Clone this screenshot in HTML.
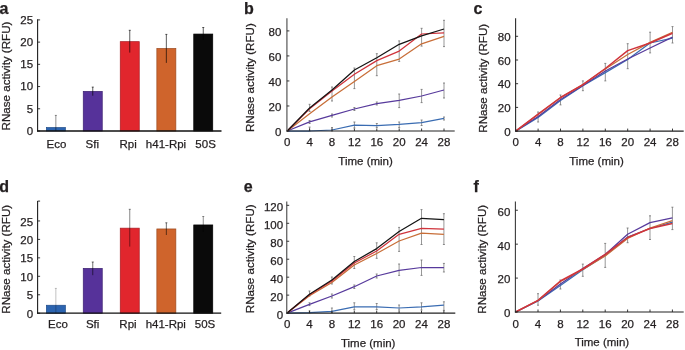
<!DOCTYPE html>
<html><head><meta charset="utf-8"><style>
html,body{margin:0;padding:0;background:#fff;}
body{width:685px;height:350px;overflow:hidden;}
svg{display:block;will-change:transform;filter:blur(0.35px);}
svg text{font-family:"Liberation Sans", sans-serif;fill:#231f20;stroke:#231f20;stroke-width:0.25px;}
</style></head><body>
<svg width="685" height="350" viewBox="0 0 685 350">
<rect width="685" height="350" fill="#fff"/>
<text x="-0.40" y="13.70" text-anchor="start" font-size="16" font-weight="bold">a</text>
<rect x="46.35" y="127.55" width="19.00" height="3.45" fill="#2c64b0" stroke="#1d4a88" stroke-width="0.7"/>
<rect x="83.25" y="91.35" width="19.00" height="39.65" fill="#56329a" stroke="#3c2170" stroke-width="0.7"/>
<rect x="120.25" y="41.65" width="19.00" height="89.35" fill="#e1262d" stroke="#a81c22" stroke-width="0.7"/>
<rect x="156.85" y="48.45" width="19.00" height="82.55" fill="#cf642c" stroke="#9c4a20" stroke-width="0.7"/>
<rect x="193.75" y="34.05" width="19.00" height="96.95" fill="#0a0a0a" stroke="#000000" stroke-width="0.7"/>
<line x1="55.85" y1="115.40" x2="55.85" y2="131.00" stroke="rgba(0,0,0,0.55)" stroke-width="0.8"/>
<line x1="54.85" y1="115.40" x2="56.85" y2="115.40" stroke="rgba(0,0,0,0.55)" stroke-width="0.8"/>
<line x1="92.75" y1="87.10" x2="92.75" y2="95.70" stroke="rgba(0,0,0,0.8)" stroke-width="0.8"/>
<line x1="91.75" y1="87.10" x2="93.75" y2="87.10" stroke="rgba(0,0,0,0.8)" stroke-width="0.8"/>
<line x1="129.75" y1="30.30" x2="129.75" y2="52.60" stroke="rgba(0,0,0,0.8)" stroke-width="0.8"/>
<line x1="128.75" y1="30.30" x2="130.75" y2="30.30" stroke="rgba(0,0,0,0.8)" stroke-width="0.8"/>
<line x1="166.35" y1="34.40" x2="166.35" y2="62.90" stroke="rgba(0,0,0,0.8)" stroke-width="0.8"/>
<line x1="165.35" y1="34.40" x2="167.35" y2="34.40" stroke="rgba(0,0,0,0.8)" stroke-width="0.8"/>
<line x1="203.25" y1="27.50" x2="203.25" y2="40.00" stroke="rgba(0,0,0,0.8)" stroke-width="0.8"/>
<line x1="202.25" y1="27.50" x2="204.25" y2="27.50" stroke="rgba(0,0,0,0.8)" stroke-width="0.8"/>
<line x1="37.60" y1="19.30" x2="37.60" y2="131.50" stroke="#1e1e1e" stroke-width="1.1"/>
<line x1="37.60" y1="131.00" x2="40.10" y2="131.00" stroke="#222" stroke-width="0.9"/>
<text x="33.10" y="134.90" text-anchor="end" font-size="11.5" font-weight="normal">0</text>
<line x1="37.60" y1="108.78" x2="40.10" y2="108.78" stroke="#222" stroke-width="0.9"/>
<text x="33.10" y="112.68" text-anchor="end" font-size="11.5" font-weight="normal">5</text>
<line x1="37.60" y1="86.56" x2="40.10" y2="86.56" stroke="#222" stroke-width="0.9"/>
<text x="33.10" y="90.46" text-anchor="end" font-size="11.5" font-weight="normal">10</text>
<line x1="37.60" y1="64.34" x2="40.10" y2="64.34" stroke="#222" stroke-width="0.9"/>
<text x="33.10" y="68.24" text-anchor="end" font-size="11.5" font-weight="normal">15</text>
<line x1="37.60" y1="42.12" x2="40.10" y2="42.12" stroke="#222" stroke-width="0.9"/>
<text x="33.10" y="46.02" text-anchor="end" font-size="11.5" font-weight="normal">20</text>
<line x1="37.60" y1="19.90" x2="40.10" y2="19.90" stroke="#222" stroke-width="0.9"/>
<text x="33.10" y="23.80" text-anchor="end" font-size="11.5" font-weight="normal">25</text>
<line x1="37.10" y1="131.00" x2="221.50" y2="131.00" stroke="#111" stroke-width="1.3"/>
<text x="56.45" y="148.00" text-anchor="middle" font-size="11.5" font-weight="normal">Eco</text>
<text x="92.30" y="148.00" text-anchor="middle" font-size="11.5" font-weight="normal">Sfi</text>
<text x="128.10" y="148.00" text-anchor="middle" font-size="11.5" font-weight="normal">Rpi</text>
<text x="166.00" y="148.00" text-anchor="middle" font-size="11.5" font-weight="normal">h41-Rpi</text>
<text x="205.60" y="148.00" text-anchor="middle" font-size="11.5" font-weight="normal">50S</text>
<text transform="translate(10.00,76.00) rotate(-90)" x="0" y="0" text-anchor="middle" font-size="11.6">RNase activity (RFU)</text>
<text x="244.00" y="13.70" text-anchor="start" font-size="16" font-weight="bold">b</text>
<line x1="309.60" y1="104.30" x2="309.60" y2="111.40" stroke="#6a6a6a" stroke-width="0.7"/>
<line x1="308.60" y1="104.30" x2="310.60" y2="104.30" stroke="#6a6a6a" stroke-width="0.75"/>
<line x1="308.60" y1="111.40" x2="310.60" y2="111.40" stroke="#6a6a6a" stroke-width="0.75"/>
<line x1="332.00" y1="87.00" x2="332.00" y2="101.00" stroke="#6a6a6a" stroke-width="0.7"/>
<line x1="331.00" y1="87.00" x2="333.00" y2="87.00" stroke="#6a6a6a" stroke-width="0.75"/>
<line x1="331.00" y1="101.00" x2="333.00" y2="101.00" stroke="#6a6a6a" stroke-width="0.75"/>
<line x1="354.40" y1="68.00" x2="354.40" y2="88.60" stroke="#6a6a6a" stroke-width="0.7"/>
<line x1="353.40" y1="68.00" x2="355.40" y2="68.00" stroke="#6a6a6a" stroke-width="0.75"/>
<line x1="353.40" y1="88.60" x2="355.40" y2="88.60" stroke="#6a6a6a" stroke-width="0.75"/>
<line x1="376.80" y1="53.70" x2="376.80" y2="75.70" stroke="#6a6a6a" stroke-width="0.7"/>
<line x1="375.80" y1="53.70" x2="377.80" y2="53.70" stroke="#6a6a6a" stroke-width="0.75"/>
<line x1="375.80" y1="75.70" x2="377.80" y2="75.70" stroke="#6a6a6a" stroke-width="0.75"/>
<line x1="399.20" y1="40.90" x2="399.20" y2="61.40" stroke="#6a6a6a" stroke-width="0.7"/>
<line x1="398.20" y1="40.90" x2="400.20" y2="40.90" stroke="#6a6a6a" stroke-width="0.75"/>
<line x1="398.20" y1="61.40" x2="400.20" y2="61.40" stroke="#6a6a6a" stroke-width="0.75"/>
<line x1="421.60" y1="28.30" x2="421.60" y2="46.10" stroke="#6a6a6a" stroke-width="0.7"/>
<line x1="420.60" y1="28.30" x2="422.60" y2="28.30" stroke="#6a6a6a" stroke-width="0.75"/>
<line x1="420.60" y1="46.10" x2="422.60" y2="46.10" stroke="#6a6a6a" stroke-width="0.75"/>
<line x1="444.00" y1="20.30" x2="444.00" y2="46.60" stroke="#6a6a6a" stroke-width="0.7"/>
<line x1="443.00" y1="20.30" x2="445.00" y2="20.30" stroke="#6a6a6a" stroke-width="0.75"/>
<line x1="443.00" y1="46.60" x2="445.00" y2="46.60" stroke="#6a6a6a" stroke-width="0.75"/>
<line x1="309.60" y1="120.50" x2="309.60" y2="123.50" stroke="#6a6a6a" stroke-width="0.7"/>
<line x1="308.60" y1="120.50" x2="310.60" y2="120.50" stroke="#6a6a6a" stroke-width="0.75"/>
<line x1="308.60" y1="123.50" x2="310.60" y2="123.50" stroke="#6a6a6a" stroke-width="0.75"/>
<line x1="332.00" y1="114.00" x2="332.00" y2="117.00" stroke="#6a6a6a" stroke-width="0.7"/>
<line x1="331.00" y1="114.00" x2="333.00" y2="114.00" stroke="#6a6a6a" stroke-width="0.75"/>
<line x1="331.00" y1="117.00" x2="333.00" y2="117.00" stroke="#6a6a6a" stroke-width="0.75"/>
<line x1="354.40" y1="107.50" x2="354.40" y2="110.50" stroke="#6a6a6a" stroke-width="0.7"/>
<line x1="353.40" y1="107.50" x2="355.40" y2="107.50" stroke="#6a6a6a" stroke-width="0.75"/>
<line x1="353.40" y1="110.50" x2="355.40" y2="110.50" stroke="#6a6a6a" stroke-width="0.75"/>
<line x1="376.80" y1="102.00" x2="376.80" y2="105.00" stroke="#6a6a6a" stroke-width="0.7"/>
<line x1="375.80" y1="102.00" x2="377.80" y2="102.00" stroke="#6a6a6a" stroke-width="0.75"/>
<line x1="375.80" y1="105.00" x2="377.80" y2="105.00" stroke="#6a6a6a" stroke-width="0.75"/>
<line x1="399.20" y1="94.00" x2="399.20" y2="107.60" stroke="#6a6a6a" stroke-width="0.7"/>
<line x1="398.20" y1="94.00" x2="400.20" y2="94.00" stroke="#6a6a6a" stroke-width="0.75"/>
<line x1="398.20" y1="107.60" x2="400.20" y2="107.60" stroke="#6a6a6a" stroke-width="0.75"/>
<line x1="421.60" y1="89.40" x2="421.60" y2="102.60" stroke="#6a6a6a" stroke-width="0.7"/>
<line x1="420.60" y1="89.40" x2="422.60" y2="89.40" stroke="#6a6a6a" stroke-width="0.75"/>
<line x1="420.60" y1="102.60" x2="422.60" y2="102.60" stroke="#6a6a6a" stroke-width="0.75"/>
<line x1="444.00" y1="83.00" x2="444.00" y2="98.00" stroke="#6a6a6a" stroke-width="0.7"/>
<line x1="443.00" y1="83.00" x2="445.00" y2="83.00" stroke="#6a6a6a" stroke-width="0.75"/>
<line x1="443.00" y1="98.00" x2="445.00" y2="98.00" stroke="#6a6a6a" stroke-width="0.75"/>
<line x1="309.60" y1="127.10" x2="309.60" y2="131.00" stroke="#6a6a6a" stroke-width="0.7"/>
<line x1="308.60" y1="127.10" x2="310.60" y2="127.10" stroke="#6a6a6a" stroke-width="0.75"/>
<line x1="308.60" y1="131.00" x2="310.60" y2="131.00" stroke="#6a6a6a" stroke-width="0.75"/>
<line x1="332.00" y1="127.50" x2="332.00" y2="131.00" stroke="#6a6a6a" stroke-width="0.7"/>
<line x1="331.00" y1="127.50" x2="333.00" y2="127.50" stroke="#6a6a6a" stroke-width="0.75"/>
<line x1="331.00" y1="131.00" x2="333.00" y2="131.00" stroke="#6a6a6a" stroke-width="0.75"/>
<line x1="354.40" y1="122.00" x2="354.40" y2="128.00" stroke="#6a6a6a" stroke-width="0.7"/>
<line x1="353.40" y1="122.00" x2="355.40" y2="122.00" stroke="#6a6a6a" stroke-width="0.75"/>
<line x1="353.40" y1="128.00" x2="355.40" y2="128.00" stroke="#6a6a6a" stroke-width="0.75"/>
<line x1="376.80" y1="123.50" x2="376.80" y2="127.60" stroke="#6a6a6a" stroke-width="0.7"/>
<line x1="375.80" y1="123.50" x2="377.80" y2="123.50" stroke="#6a6a6a" stroke-width="0.75"/>
<line x1="375.80" y1="127.60" x2="377.80" y2="127.60" stroke="#6a6a6a" stroke-width="0.75"/>
<line x1="399.20" y1="122.00" x2="399.20" y2="127.60" stroke="#6a6a6a" stroke-width="0.7"/>
<line x1="398.20" y1="122.00" x2="400.20" y2="122.00" stroke="#6a6a6a" stroke-width="0.75"/>
<line x1="398.20" y1="127.60" x2="400.20" y2="127.60" stroke="#6a6a6a" stroke-width="0.75"/>
<line x1="421.60" y1="120.00" x2="421.60" y2="125.50" stroke="#6a6a6a" stroke-width="0.7"/>
<line x1="420.60" y1="120.00" x2="422.60" y2="120.00" stroke="#6a6a6a" stroke-width="0.75"/>
<line x1="420.60" y1="125.50" x2="422.60" y2="125.50" stroke="#6a6a6a" stroke-width="0.75"/>
<line x1="444.00" y1="117.00" x2="444.00" y2="120.00" stroke="#6a6a6a" stroke-width="0.7"/>
<line x1="443.00" y1="117.00" x2="445.00" y2="117.00" stroke="#6a6a6a" stroke-width="0.75"/>
<line x1="443.00" y1="120.00" x2="445.00" y2="120.00" stroke="#6a6a6a" stroke-width="0.75"/>
<polyline points="287.20,131.00 309.60,131.00 332.00,130.00 354.40,125.10 376.80,125.60 399.20,124.40 421.60,122.60 444.00,118.40" fill="none" stroke="#3a6cb2" stroke-width="1.25" stroke-linejoin="round"/>
<polyline points="287.20,131.00 309.60,121.90 332.00,115.40 354.40,109.00 376.80,103.60 399.20,100.40 421.60,96.00 444.00,90.00" fill="none" stroke="#573a9c" stroke-width="1.25" stroke-linejoin="round"/>
<polyline points="287.20,131.00 309.60,113.70 332.00,97.10 354.40,81.40 376.80,65.70 399.20,59.10 421.60,43.80 444.00,36.30" fill="none" stroke="#c86e38" stroke-width="1.25" stroke-linejoin="round"/>
<polyline points="287.20,131.00 309.60,108.80 332.00,90.90 354.40,74.30 376.80,60.60 399.20,51.10 421.60,34.00 444.00,32.90" fill="none" stroke="#d0343c" stroke-width="1.25" stroke-linejoin="round"/>
<polyline points="287.20,131.00 309.60,108.00 332.00,90.00 354.40,70.00 376.80,57.70 399.20,44.30 421.60,35.80 444.00,29.00" fill="none" stroke="#141414" stroke-width="1.25" stroke-linejoin="round"/>
<line x1="286.90" y1="18.30" x2="286.90" y2="131.50" stroke="#6e6e6e" stroke-width="1.4"/>
<line x1="286.90" y1="131.00" x2="289.40" y2="131.00" stroke="#222" stroke-width="0.9"/>
<text x="281.30" y="135.60" text-anchor="end" font-size="11.5" font-weight="normal">0</text>
<line x1="286.90" y1="105.97" x2="289.40" y2="105.97" stroke="#222" stroke-width="0.9"/>
<text x="281.30" y="110.57" text-anchor="end" font-size="11.5" font-weight="normal">20</text>
<line x1="286.90" y1="80.95" x2="289.40" y2="80.95" stroke="#222" stroke-width="0.9"/>
<text x="281.30" y="85.55" text-anchor="end" font-size="11.5" font-weight="normal">40</text>
<line x1="286.90" y1="55.92" x2="289.40" y2="55.92" stroke="#222" stroke-width="0.9"/>
<text x="281.30" y="60.52" text-anchor="end" font-size="11.5" font-weight="normal">60</text>
<line x1="286.90" y1="30.90" x2="289.40" y2="30.90" stroke="#222" stroke-width="0.9"/>
<text x="281.30" y="35.50" text-anchor="end" font-size="11.5" font-weight="normal">80</text>
<line x1="286.40" y1="131.00" x2="454.70" y2="131.00" stroke="#222" stroke-width="1.2"/>
<text x="287.20" y="145.90" text-anchor="middle" font-size="11.5" font-weight="normal">0</text>
<line x1="309.60" y1="131.00" x2="309.60" y2="128.50" stroke="#222" stroke-width="0.9"/>
<text x="309.60" y="145.90" text-anchor="middle" font-size="11.5" font-weight="normal">4</text>
<line x1="332.00" y1="131.00" x2="332.00" y2="128.50" stroke="#222" stroke-width="0.9"/>
<text x="332.00" y="145.90" text-anchor="middle" font-size="11.5" font-weight="normal">8</text>
<line x1="354.40" y1="131.00" x2="354.40" y2="128.50" stroke="#222" stroke-width="0.9"/>
<text x="354.40" y="145.90" text-anchor="middle" font-size="11.5" font-weight="normal">12</text>
<line x1="376.80" y1="131.00" x2="376.80" y2="128.50" stroke="#222" stroke-width="0.9"/>
<text x="376.80" y="145.90" text-anchor="middle" font-size="11.5" font-weight="normal">16</text>
<line x1="399.20" y1="131.00" x2="399.20" y2="128.50" stroke="#222" stroke-width="0.9"/>
<text x="399.20" y="145.90" text-anchor="middle" font-size="11.5" font-weight="normal">20</text>
<line x1="421.60" y1="131.00" x2="421.60" y2="128.50" stroke="#222" stroke-width="0.9"/>
<text x="421.60" y="145.90" text-anchor="middle" font-size="11.5" font-weight="normal">24</text>
<line x1="444.00" y1="131.00" x2="444.00" y2="128.50" stroke="#222" stroke-width="0.9"/>
<text x="444.00" y="145.90" text-anchor="middle" font-size="11.5" font-weight="normal">28</text>
<text x="365.60" y="165.10" text-anchor="middle" font-size="11.5" font-weight="normal">Time (min)</text>
<text transform="translate(253.50,77.65) rotate(-90)" x="0" y="0" text-anchor="middle" font-size="11.6">RNase activity (RFU)</text>
<text x="473.50" y="14.00" text-anchor="start" font-size="16" font-weight="bold">c</text>
<line x1="538.10" y1="112.00" x2="538.10" y2="122.00" stroke="#6a6a6a" stroke-width="0.7"/>
<line x1="537.10" y1="112.00" x2="539.10" y2="112.00" stroke="#6a6a6a" stroke-width="0.75"/>
<line x1="537.10" y1="122.00" x2="539.10" y2="122.00" stroke="#6a6a6a" stroke-width="0.75"/>
<line x1="560.50" y1="95.00" x2="560.50" y2="104.90" stroke="#6a6a6a" stroke-width="0.7"/>
<line x1="559.50" y1="95.00" x2="561.50" y2="95.00" stroke="#6a6a6a" stroke-width="0.75"/>
<line x1="559.50" y1="104.90" x2="561.50" y2="104.90" stroke="#6a6a6a" stroke-width="0.75"/>
<line x1="582.90" y1="80.90" x2="582.90" y2="90.70" stroke="#6a6a6a" stroke-width="0.7"/>
<line x1="581.90" y1="80.90" x2="583.90" y2="80.90" stroke="#6a6a6a" stroke-width="0.75"/>
<line x1="581.90" y1="90.70" x2="583.90" y2="90.70" stroke="#6a6a6a" stroke-width="0.75"/>
<line x1="605.30" y1="63.40" x2="605.30" y2="80.90" stroke="#6a6a6a" stroke-width="0.7"/>
<line x1="604.30" y1="63.40" x2="606.30" y2="63.40" stroke="#6a6a6a" stroke-width="0.75"/>
<line x1="604.30" y1="80.90" x2="606.30" y2="80.90" stroke="#6a6a6a" stroke-width="0.75"/>
<line x1="627.70" y1="43.70" x2="627.70" y2="68.70" stroke="#6a6a6a" stroke-width="0.7"/>
<line x1="626.70" y1="43.70" x2="628.70" y2="43.70" stroke="#6a6a6a" stroke-width="0.75"/>
<line x1="626.70" y1="68.70" x2="628.70" y2="68.70" stroke="#6a6a6a" stroke-width="0.75"/>
<line x1="650.10" y1="32.20" x2="650.10" y2="52.90" stroke="#6a6a6a" stroke-width="0.7"/>
<line x1="649.10" y1="32.20" x2="651.10" y2="32.20" stroke="#6a6a6a" stroke-width="0.75"/>
<line x1="649.10" y1="52.90" x2="651.10" y2="52.90" stroke="#6a6a6a" stroke-width="0.75"/>
<line x1="672.50" y1="26.60" x2="672.50" y2="43.00" stroke="#6a6a6a" stroke-width="0.7"/>
<line x1="671.50" y1="26.60" x2="673.50" y2="26.60" stroke="#6a6a6a" stroke-width="0.75"/>
<line x1="671.50" y1="43.00" x2="673.50" y2="43.00" stroke="#6a6a6a" stroke-width="0.75"/>
<polyline points="515.70,131.10 538.10,117.40 560.50,100.60 582.90,85.80 605.30,72.60 627.70,59.50 650.10,43.00 672.50,38.10" fill="none" stroke="#3a6cb2" stroke-width="1.25" stroke-linejoin="round"/>
<polyline points="515.70,131.10 538.10,116.50 560.50,99.50 582.90,85.50 605.30,71.00 627.70,59.00 650.10,48.00 672.50,37.10" fill="none" stroke="#573a9c" stroke-width="1.25" stroke-linejoin="round"/>
<polyline points="515.70,131.10 538.10,114.50 560.50,97.80 582.90,84.60 605.30,69.00 627.70,54.50 650.10,42.40 672.50,32.20" fill="none" stroke="#c86e38" stroke-width="1.25" stroke-linejoin="round"/>
<polyline points="515.70,131.10 538.10,114.20 560.50,97.50 582.90,84.60 605.30,68.50 627.70,50.60 650.10,43.00 672.50,33.20" fill="none" stroke="#d0343c" stroke-width="1.5" stroke-linejoin="round"/>
<line x1="515.60" y1="18.30" x2="515.60" y2="131.60" stroke="#2a2a2a" stroke-width="1.1"/>
<line x1="515.60" y1="131.10" x2="518.10" y2="131.10" stroke="#222" stroke-width="0.9"/>
<text x="510.60" y="135.70" text-anchor="end" font-size="11.5" font-weight="normal">0</text>
<line x1="515.60" y1="107.40" x2="518.10" y2="107.40" stroke="#222" stroke-width="0.9"/>
<text x="510.60" y="112.00" text-anchor="end" font-size="11.5" font-weight="normal">20</text>
<line x1="515.60" y1="83.70" x2="518.10" y2="83.70" stroke="#222" stroke-width="0.9"/>
<text x="510.60" y="88.30" text-anchor="end" font-size="11.5" font-weight="normal">40</text>
<line x1="515.60" y1="60.00" x2="518.10" y2="60.00" stroke="#222" stroke-width="0.9"/>
<text x="510.60" y="64.60" text-anchor="end" font-size="11.5" font-weight="normal">60</text>
<line x1="515.60" y1="36.30" x2="518.10" y2="36.30" stroke="#222" stroke-width="0.9"/>
<text x="510.60" y="40.90" text-anchor="end" font-size="11.5" font-weight="normal">80</text>
<line x1="515.10" y1="131.10" x2="683.70" y2="131.10" stroke="#222" stroke-width="1.2"/>
<text x="515.70" y="145.90" text-anchor="middle" font-size="11.5" font-weight="normal">0</text>
<line x1="538.10" y1="131.10" x2="538.10" y2="128.60" stroke="#222" stroke-width="0.9"/>
<text x="538.10" y="145.90" text-anchor="middle" font-size="11.5" font-weight="normal">4</text>
<line x1="560.50" y1="131.10" x2="560.50" y2="128.60" stroke="#222" stroke-width="0.9"/>
<text x="560.50" y="145.90" text-anchor="middle" font-size="11.5" font-weight="normal">8</text>
<line x1="582.90" y1="131.10" x2="582.90" y2="128.60" stroke="#222" stroke-width="0.9"/>
<text x="582.90" y="145.90" text-anchor="middle" font-size="11.5" font-weight="normal">12</text>
<line x1="605.30" y1="131.10" x2="605.30" y2="128.60" stroke="#222" stroke-width="0.9"/>
<text x="605.30" y="145.90" text-anchor="middle" font-size="11.5" font-weight="normal">16</text>
<line x1="627.70" y1="131.10" x2="627.70" y2="128.60" stroke="#222" stroke-width="0.9"/>
<text x="627.70" y="145.90" text-anchor="middle" font-size="11.5" font-weight="normal">20</text>
<line x1="650.10" y1="131.10" x2="650.10" y2="128.60" stroke="#222" stroke-width="0.9"/>
<text x="650.10" y="145.90" text-anchor="middle" font-size="11.5" font-weight="normal">24</text>
<line x1="672.50" y1="131.10" x2="672.50" y2="128.60" stroke="#222" stroke-width="0.9"/>
<text x="672.50" y="145.90" text-anchor="middle" font-size="11.5" font-weight="normal">28</text>
<text x="596.50" y="165.30" text-anchor="middle" font-size="11.5" font-weight="normal">Time (min)</text>
<text transform="translate(487.30,78.25) rotate(-90)" x="0" y="0" text-anchor="middle" font-size="11.6">RNase activity (RFU)</text>
<text x="-0.80" y="191.70" text-anchor="start" font-size="16" font-weight="bold">d</text>
<rect x="46.35" y="305.25" width="19.00" height="7.95" fill="#2c64b0" stroke="#1d4a88" stroke-width="0.7"/>
<rect x="83.25" y="268.35" width="19.00" height="44.85" fill="#56329a" stroke="#3c2170" stroke-width="0.7"/>
<rect x="120.25" y="228.15" width="19.00" height="85.05" fill="#e1262d" stroke="#a81c22" stroke-width="0.7"/>
<rect x="156.85" y="228.95" width="19.00" height="84.25" fill="#cf642c" stroke="#9c4a20" stroke-width="0.7"/>
<rect x="193.75" y="224.95" width="19.00" height="88.25" fill="#0a0a0a" stroke="#000000" stroke-width="0.7"/>
<line x1="55.85" y1="288.40" x2="55.85" y2="313.20" stroke="rgba(0,0,0,0.3)" stroke-width="0.8"/>
<line x1="54.85" y1="288.40" x2="56.85" y2="288.40" stroke="rgba(0,0,0,0.3)" stroke-width="0.8"/>
<line x1="92.75" y1="262.00" x2="92.75" y2="275.20" stroke="rgba(0,0,0,0.7)" stroke-width="0.8"/>
<line x1="91.75" y1="262.00" x2="93.75" y2="262.00" stroke="rgba(0,0,0,0.7)" stroke-width="0.8"/>
<line x1="129.75" y1="209.30" x2="129.75" y2="246.60" stroke="rgba(0,0,0,0.6)" stroke-width="0.8"/>
<line x1="128.75" y1="209.30" x2="130.75" y2="209.30" stroke="rgba(0,0,0,0.6)" stroke-width="0.8"/>
<line x1="166.35" y1="222.80" x2="166.35" y2="235.00" stroke="rgba(0,0,0,0.7)" stroke-width="0.8"/>
<line x1="165.35" y1="222.80" x2="167.35" y2="222.80" stroke="rgba(0,0,0,0.7)" stroke-width="0.8"/>
<line x1="203.25" y1="216.50" x2="203.25" y2="232.00" stroke="rgba(0,0,0,0.55)" stroke-width="0.8"/>
<line x1="202.25" y1="216.50" x2="204.25" y2="216.50" stroke="rgba(0,0,0,0.55)" stroke-width="0.8"/>
<line x1="37.60" y1="201.10" x2="37.60" y2="313.70" stroke="#1e1e1e" stroke-width="1.1"/>
<line x1="37.60" y1="201.10" x2="40.10" y2="201.10" stroke="#1e1e1e" stroke-width="0.9"/>
<line x1="37.60" y1="313.20" x2="40.10" y2="313.20" stroke="#222" stroke-width="0.9"/>
<text x="33.10" y="317.80" text-anchor="end" font-size="11.5" font-weight="normal">0</text>
<line x1="37.60" y1="294.75" x2="40.10" y2="294.75" stroke="#222" stroke-width="0.9"/>
<text x="33.10" y="299.35" text-anchor="end" font-size="11.5" font-weight="normal">5</text>
<line x1="37.60" y1="276.30" x2="40.10" y2="276.30" stroke="#222" stroke-width="0.9"/>
<text x="33.10" y="280.90" text-anchor="end" font-size="11.5" font-weight="normal">10</text>
<line x1="37.60" y1="257.85" x2="40.10" y2="257.85" stroke="#222" stroke-width="0.9"/>
<text x="33.10" y="262.45" text-anchor="end" font-size="11.5" font-weight="normal">15</text>
<line x1="37.60" y1="239.40" x2="40.10" y2="239.40" stroke="#222" stroke-width="0.9"/>
<text x="33.10" y="244.00" text-anchor="end" font-size="11.5" font-weight="normal">20</text>
<line x1="37.60" y1="220.95" x2="40.10" y2="220.95" stroke="#222" stroke-width="0.9"/>
<text x="33.10" y="225.55" text-anchor="end" font-size="11.5" font-weight="normal">25</text>
<line x1="37.10" y1="313.20" x2="221.20" y2="313.20" stroke="#111" stroke-width="1.3"/>
<text x="57.90" y="327.90" text-anchor="middle" font-size="11.5" font-weight="normal">Eco</text>
<text x="92.60" y="327.90" text-anchor="middle" font-size="11.5" font-weight="normal">Sfi</text>
<text x="128.00" y="327.90" text-anchor="middle" font-size="11.5" font-weight="normal">Rpi</text>
<text x="165.80" y="327.90" text-anchor="middle" font-size="11.5" font-weight="normal">h41-Rpi</text>
<text x="205.00" y="327.90" text-anchor="middle" font-size="11.5" font-weight="normal">50S</text>
<text transform="translate(9.70,259.25) rotate(-90)" x="0" y="0" text-anchor="middle" font-size="11.6">RNase activity (RFU)</text>
<text x="243.70" y="192.10" text-anchor="start" font-size="16" font-weight="bold">e</text>
<line x1="309.50" y1="291.00" x2="309.50" y2="296.00" stroke="#6a6a6a" stroke-width="0.7"/>
<line x1="308.50" y1="291.00" x2="310.50" y2="291.00" stroke="#6a6a6a" stroke-width="0.75"/>
<line x1="308.50" y1="296.00" x2="310.50" y2="296.00" stroke="#6a6a6a" stroke-width="0.75"/>
<line x1="331.90" y1="277.00" x2="331.90" y2="284.00" stroke="#6a6a6a" stroke-width="0.7"/>
<line x1="330.90" y1="277.00" x2="332.90" y2="277.00" stroke="#6a6a6a" stroke-width="0.75"/>
<line x1="330.90" y1="284.00" x2="332.90" y2="284.00" stroke="#6a6a6a" stroke-width="0.75"/>
<line x1="354.30" y1="256.50" x2="354.30" y2="268.50" stroke="#6a6a6a" stroke-width="0.7"/>
<line x1="353.30" y1="256.50" x2="355.30" y2="256.50" stroke="#6a6a6a" stroke-width="0.75"/>
<line x1="353.30" y1="268.50" x2="355.30" y2="268.50" stroke="#6a6a6a" stroke-width="0.75"/>
<line x1="376.70" y1="242.80" x2="376.70" y2="258.30" stroke="#6a6a6a" stroke-width="0.7"/>
<line x1="375.70" y1="242.80" x2="377.70" y2="242.80" stroke="#6a6a6a" stroke-width="0.75"/>
<line x1="375.70" y1="258.30" x2="377.70" y2="258.30" stroke="#6a6a6a" stroke-width="0.75"/>
<line x1="399.10" y1="227.40" x2="399.10" y2="251.40" stroke="#6a6a6a" stroke-width="0.7"/>
<line x1="398.10" y1="227.40" x2="400.10" y2="227.40" stroke="#6a6a6a" stroke-width="0.75"/>
<line x1="398.10" y1="251.40" x2="400.10" y2="251.40" stroke="#6a6a6a" stroke-width="0.75"/>
<line x1="421.50" y1="209.60" x2="421.50" y2="244.50" stroke="#6a6a6a" stroke-width="0.7"/>
<line x1="420.50" y1="209.60" x2="422.50" y2="209.60" stroke="#6a6a6a" stroke-width="0.75"/>
<line x1="420.50" y1="244.50" x2="422.50" y2="244.50" stroke="#6a6a6a" stroke-width="0.75"/>
<line x1="443.90" y1="213.70" x2="443.90" y2="244.50" stroke="#6a6a6a" stroke-width="0.7"/>
<line x1="442.90" y1="213.70" x2="444.90" y2="213.70" stroke="#6a6a6a" stroke-width="0.75"/>
<line x1="442.90" y1="244.50" x2="444.90" y2="244.50" stroke="#6a6a6a" stroke-width="0.75"/>
<line x1="309.50" y1="302.80" x2="309.50" y2="305.60" stroke="#6a6a6a" stroke-width="0.7"/>
<line x1="308.50" y1="302.80" x2="310.50" y2="302.80" stroke="#6a6a6a" stroke-width="0.75"/>
<line x1="308.50" y1="305.60" x2="310.50" y2="305.60" stroke="#6a6a6a" stroke-width="0.75"/>
<line x1="331.90" y1="294.00" x2="331.90" y2="298.00" stroke="#6a6a6a" stroke-width="0.7"/>
<line x1="330.90" y1="294.00" x2="332.90" y2="294.00" stroke="#6a6a6a" stroke-width="0.75"/>
<line x1="330.90" y1="298.00" x2="332.90" y2="298.00" stroke="#6a6a6a" stroke-width="0.75"/>
<line x1="354.30" y1="285.00" x2="354.30" y2="288.50" stroke="#6a6a6a" stroke-width="0.7"/>
<line x1="353.30" y1="285.00" x2="355.30" y2="285.00" stroke="#6a6a6a" stroke-width="0.75"/>
<line x1="353.30" y1="288.50" x2="355.30" y2="288.50" stroke="#6a6a6a" stroke-width="0.75"/>
<line x1="376.70" y1="274.00" x2="376.70" y2="278.00" stroke="#6a6a6a" stroke-width="0.7"/>
<line x1="375.70" y1="274.00" x2="377.70" y2="274.00" stroke="#6a6a6a" stroke-width="0.75"/>
<line x1="375.70" y1="278.00" x2="377.70" y2="278.00" stroke="#6a6a6a" stroke-width="0.75"/>
<line x1="399.10" y1="264.00" x2="399.10" y2="275.40" stroke="#6a6a6a" stroke-width="0.7"/>
<line x1="398.10" y1="264.00" x2="400.10" y2="264.00" stroke="#6a6a6a" stroke-width="0.75"/>
<line x1="398.10" y1="275.40" x2="400.10" y2="275.40" stroke="#6a6a6a" stroke-width="0.75"/>
<line x1="421.50" y1="260.00" x2="421.50" y2="275.40" stroke="#6a6a6a" stroke-width="0.7"/>
<line x1="420.50" y1="260.00" x2="422.50" y2="260.00" stroke="#6a6a6a" stroke-width="0.75"/>
<line x1="420.50" y1="275.40" x2="422.50" y2="275.40" stroke="#6a6a6a" stroke-width="0.75"/>
<line x1="443.90" y1="263.40" x2="443.90" y2="272.00" stroke="#6a6a6a" stroke-width="0.7"/>
<line x1="442.90" y1="263.40" x2="444.90" y2="263.40" stroke="#6a6a6a" stroke-width="0.75"/>
<line x1="442.90" y1="272.00" x2="444.90" y2="272.00" stroke="#6a6a6a" stroke-width="0.75"/>
<line x1="309.50" y1="311.00" x2="309.50" y2="312.70" stroke="#6a6a6a" stroke-width="0.7"/>
<line x1="308.50" y1="311.00" x2="310.50" y2="311.00" stroke="#6a6a6a" stroke-width="0.75"/>
<line x1="308.50" y1="312.70" x2="310.50" y2="312.70" stroke="#6a6a6a" stroke-width="0.75"/>
<line x1="331.90" y1="308.00" x2="331.90" y2="312.70" stroke="#6a6a6a" stroke-width="0.7"/>
<line x1="330.90" y1="308.00" x2="332.90" y2="308.00" stroke="#6a6a6a" stroke-width="0.75"/>
<line x1="330.90" y1="312.70" x2="332.90" y2="312.70" stroke="#6a6a6a" stroke-width="0.75"/>
<line x1="354.30" y1="302.80" x2="354.30" y2="309.70" stroke="#6a6a6a" stroke-width="0.7"/>
<line x1="353.30" y1="302.80" x2="355.30" y2="302.80" stroke="#6a6a6a" stroke-width="0.75"/>
<line x1="353.30" y1="309.70" x2="355.30" y2="309.70" stroke="#6a6a6a" stroke-width="0.75"/>
<line x1="376.70" y1="303.50" x2="376.70" y2="309.50" stroke="#6a6a6a" stroke-width="0.7"/>
<line x1="375.70" y1="303.50" x2="377.70" y2="303.50" stroke="#6a6a6a" stroke-width="0.75"/>
<line x1="375.70" y1="309.50" x2="377.70" y2="309.50" stroke="#6a6a6a" stroke-width="0.75"/>
<line x1="399.10" y1="305.00" x2="399.10" y2="310.00" stroke="#6a6a6a" stroke-width="0.7"/>
<line x1="398.10" y1="305.00" x2="400.10" y2="305.00" stroke="#6a6a6a" stroke-width="0.75"/>
<line x1="398.10" y1="310.00" x2="400.10" y2="310.00" stroke="#6a6a6a" stroke-width="0.75"/>
<line x1="421.50" y1="302.80" x2="421.50" y2="310.00" stroke="#6a6a6a" stroke-width="0.7"/>
<line x1="420.50" y1="302.80" x2="422.50" y2="302.80" stroke="#6a6a6a" stroke-width="0.75"/>
<line x1="420.50" y1="310.00" x2="422.50" y2="310.00" stroke="#6a6a6a" stroke-width="0.75"/>
<line x1="443.90" y1="301.80" x2="443.90" y2="310.40" stroke="#6a6a6a" stroke-width="0.7"/>
<line x1="442.90" y1="301.80" x2="444.90" y2="301.80" stroke="#6a6a6a" stroke-width="0.75"/>
<line x1="442.90" y1="310.40" x2="444.90" y2="310.40" stroke="#6a6a6a" stroke-width="0.75"/>
<polyline points="287.10,313.10 309.50,312.70 331.90,311.40 354.30,306.90 376.70,306.90 399.10,308.00 421.50,306.90 443.90,305.20" fill="none" stroke="#3a6cb2" stroke-width="1.25" stroke-linejoin="round"/>
<polyline points="287.10,313.10 309.50,304.30 331.90,296.00 354.30,286.70 376.70,276.00 399.10,270.30 421.50,267.50 443.90,267.50" fill="none" stroke="#573a9c" stroke-width="1.25" stroke-linejoin="round"/>
<polyline points="287.10,313.10 309.50,295.80 331.90,282.50 354.30,265.00 376.70,253.50 399.10,241.00 421.50,233.20 443.90,234.40" fill="none" stroke="#c86e38" stroke-width="1.25" stroke-linejoin="round"/>
<polyline points="287.10,313.10 309.50,294.80 331.90,281.00 354.30,263.00 376.70,251.00 399.10,234.30 421.50,228.40 443.90,229.10" fill="none" stroke="#d0343c" stroke-width="1.25" stroke-linejoin="round"/>
<polyline points="287.10,313.10 309.50,294.20 331.90,280.00 354.30,261.50 376.70,248.60 399.10,231.50 421.50,218.30 443.90,219.60" fill="none" stroke="#141414" stroke-width="1.25" stroke-linejoin="round"/>
<line x1="286.70" y1="201.40" x2="286.70" y2="313.60" stroke="#6e6e6e" stroke-width="1.4"/>
<line x1="286.70" y1="313.10" x2="289.20" y2="313.10" stroke="#222" stroke-width="0.9"/>
<text x="283.10" y="318.90" text-anchor="end" font-size="11.5" font-weight="normal">0</text>
<line x1="286.70" y1="295.14" x2="289.20" y2="295.14" stroke="#222" stroke-width="0.9"/>
<text x="283.10" y="300.94" text-anchor="end" font-size="11.5" font-weight="normal">20</text>
<line x1="286.70" y1="277.18" x2="289.20" y2="277.18" stroke="#222" stroke-width="0.9"/>
<text x="283.10" y="282.98" text-anchor="end" font-size="11.5" font-weight="normal">40</text>
<line x1="286.70" y1="259.22" x2="289.20" y2="259.22" stroke="#222" stroke-width="0.9"/>
<text x="283.10" y="265.02" text-anchor="end" font-size="11.5" font-weight="normal">60</text>
<line x1="286.70" y1="241.26" x2="289.20" y2="241.26" stroke="#222" stroke-width="0.9"/>
<text x="283.10" y="247.06" text-anchor="end" font-size="11.5" font-weight="normal">80</text>
<line x1="286.70" y1="223.30" x2="289.20" y2="223.30" stroke="#222" stroke-width="0.9"/>
<text x="283.10" y="229.10" text-anchor="end" font-size="11.5" font-weight="normal">100</text>
<line x1="286.70" y1="205.34" x2="289.20" y2="205.34" stroke="#222" stroke-width="0.9"/>
<text x="283.10" y="211.14" text-anchor="end" font-size="11.5" font-weight="normal">120</text>
<line x1="286.20" y1="313.10" x2="455.30" y2="313.10" stroke="#222" stroke-width="1.2"/>
<text x="287.10" y="328.00" text-anchor="middle" font-size="11.5" font-weight="normal">0</text>
<line x1="309.50" y1="313.10" x2="309.50" y2="310.60" stroke="#222" stroke-width="0.9"/>
<text x="309.50" y="328.00" text-anchor="middle" font-size="11.5" font-weight="normal">4</text>
<line x1="331.90" y1="313.10" x2="331.90" y2="310.60" stroke="#222" stroke-width="0.9"/>
<text x="331.90" y="328.00" text-anchor="middle" font-size="11.5" font-weight="normal">8</text>
<line x1="354.30" y1="313.10" x2="354.30" y2="310.60" stroke="#222" stroke-width="0.9"/>
<text x="354.30" y="328.00" text-anchor="middle" font-size="11.5" font-weight="normal">12</text>
<line x1="376.70" y1="313.10" x2="376.70" y2="310.60" stroke="#222" stroke-width="0.9"/>
<text x="376.70" y="328.00" text-anchor="middle" font-size="11.5" font-weight="normal">16</text>
<line x1="399.10" y1="313.10" x2="399.10" y2="310.60" stroke="#222" stroke-width="0.9"/>
<text x="399.10" y="328.00" text-anchor="middle" font-size="11.5" font-weight="normal">20</text>
<line x1="421.50" y1="313.10" x2="421.50" y2="310.60" stroke="#222" stroke-width="0.9"/>
<text x="421.50" y="328.00" text-anchor="middle" font-size="11.5" font-weight="normal">24</text>
<line x1="443.90" y1="313.10" x2="443.90" y2="310.60" stroke="#222" stroke-width="0.9"/>
<text x="443.90" y="328.00" text-anchor="middle" font-size="11.5" font-weight="normal">28</text>
<text x="368.20" y="346.90" text-anchor="middle" font-size="11.5" font-weight="normal">Time (min)</text>
<text transform="translate(253.50,258.75) rotate(-90)" x="0" y="0" text-anchor="middle" font-size="11.6">RNase activity (RFU)</text>
<text x="473.40" y="192.30" text-anchor="start" font-size="16" font-weight="bold">f</text>
<line x1="538.00" y1="293.70" x2="538.00" y2="305.20" stroke="#6a6a6a" stroke-width="0.7"/>
<line x1="537.00" y1="293.70" x2="539.00" y2="293.70" stroke="#6a6a6a" stroke-width="0.75"/>
<line x1="537.00" y1="305.20" x2="539.00" y2="305.20" stroke="#6a6a6a" stroke-width="0.75"/>
<line x1="560.40" y1="280.00" x2="560.40" y2="289.00" stroke="#6a6a6a" stroke-width="0.7"/>
<line x1="559.40" y1="280.00" x2="561.40" y2="280.00" stroke="#6a6a6a" stroke-width="0.75"/>
<line x1="559.40" y1="289.00" x2="561.40" y2="289.00" stroke="#6a6a6a" stroke-width="0.75"/>
<line x1="582.80" y1="264.10" x2="582.80" y2="276.30" stroke="#6a6a6a" stroke-width="0.7"/>
<line x1="581.80" y1="264.10" x2="583.80" y2="264.10" stroke="#6a6a6a" stroke-width="0.75"/>
<line x1="581.80" y1="276.30" x2="583.80" y2="276.30" stroke="#6a6a6a" stroke-width="0.75"/>
<line x1="605.20" y1="243.40" x2="605.20" y2="267.40" stroke="#6a6a6a" stroke-width="0.7"/>
<line x1="604.20" y1="243.40" x2="606.20" y2="243.40" stroke="#6a6a6a" stroke-width="0.75"/>
<line x1="604.20" y1="267.40" x2="606.20" y2="267.40" stroke="#6a6a6a" stroke-width="0.75"/>
<line x1="627.60" y1="228.00" x2="627.60" y2="242.70" stroke="#6a6a6a" stroke-width="0.7"/>
<line x1="626.60" y1="228.00" x2="628.60" y2="228.00" stroke="#6a6a6a" stroke-width="0.75"/>
<line x1="626.60" y1="242.70" x2="628.60" y2="242.70" stroke="#6a6a6a" stroke-width="0.75"/>
<line x1="650.00" y1="215.80" x2="650.00" y2="239.50" stroke="#6a6a6a" stroke-width="0.7"/>
<line x1="649.00" y1="215.80" x2="651.00" y2="215.80" stroke="#6a6a6a" stroke-width="0.75"/>
<line x1="649.00" y1="239.50" x2="651.00" y2="239.50" stroke="#6a6a6a" stroke-width="0.75"/>
<line x1="672.40" y1="207.20" x2="672.40" y2="229.60" stroke="#6a6a6a" stroke-width="0.7"/>
<line x1="671.40" y1="207.20" x2="673.40" y2="207.20" stroke="#6a6a6a" stroke-width="0.75"/>
<line x1="671.40" y1="229.60" x2="673.40" y2="229.60" stroke="#6a6a6a" stroke-width="0.75"/>
<polyline points="515.60,312.00 538.00,301.00 560.40,285.50 582.80,269.70 605.20,255.50 627.60,237.00 650.00,228.50 672.40,222.20" fill="none" stroke="#3a6cb2" stroke-width="1.25" stroke-linejoin="round"/>
<polyline points="515.60,312.00 538.00,300.80 560.40,284.00 582.80,268.50 605.20,254.50 627.60,234.20 650.00,222.60 672.40,217.90" fill="none" stroke="#573a9c" stroke-width="1.25" stroke-linejoin="round"/>
<polyline points="515.60,312.00 538.00,300.50 560.40,281.50 582.80,269.50 605.20,256.00 627.60,238.50 650.00,228.00 672.40,220.70" fill="none" stroke="#c86e38" stroke-width="1.25" stroke-linejoin="round"/>
<polyline points="515.60,312.00 538.00,300.30 560.40,281.00 582.80,269.00 605.20,254.30 627.60,237.50 650.00,228.50 672.40,223.60" fill="none" stroke="#d0343c" stroke-width="1.5" stroke-linejoin="round"/>
<line x1="515.40" y1="201.40" x2="515.40" y2="312.50" stroke="#3a3a3a" stroke-width="1.1"/>
<line x1="515.40" y1="312.00" x2="517.90" y2="312.00" stroke="#222" stroke-width="0.9"/>
<text x="510.40" y="317.40" text-anchor="end" font-size="11.5" font-weight="normal">0</text>
<line x1="515.40" y1="278.08" x2="517.90" y2="278.08" stroke="#222" stroke-width="0.9"/>
<text x="510.40" y="283.48" text-anchor="end" font-size="11.5" font-weight="normal">20</text>
<line x1="515.40" y1="244.16" x2="517.90" y2="244.16" stroke="#222" stroke-width="0.9"/>
<text x="510.40" y="249.56" text-anchor="end" font-size="11.5" font-weight="normal">40</text>
<line x1="515.40" y1="210.24" x2="517.90" y2="210.24" stroke="#222" stroke-width="0.9"/>
<text x="510.40" y="215.64" text-anchor="end" font-size="11.5" font-weight="normal">60</text>
<line x1="514.90" y1="312.00" x2="683.70" y2="312.00" stroke="#222" stroke-width="1.2"/>
<text x="515.60" y="328.00" text-anchor="middle" font-size="11.5" font-weight="normal">0</text>
<line x1="538.00" y1="312.00" x2="538.00" y2="309.50" stroke="#222" stroke-width="0.9"/>
<text x="538.00" y="328.00" text-anchor="middle" font-size="11.5" font-weight="normal">4</text>
<line x1="560.40" y1="312.00" x2="560.40" y2="309.50" stroke="#222" stroke-width="0.9"/>
<text x="560.40" y="328.00" text-anchor="middle" font-size="11.5" font-weight="normal">8</text>
<line x1="582.80" y1="312.00" x2="582.80" y2="309.50" stroke="#222" stroke-width="0.9"/>
<text x="582.80" y="328.00" text-anchor="middle" font-size="11.5" font-weight="normal">12</text>
<line x1="605.20" y1="312.00" x2="605.20" y2="309.50" stroke="#222" stroke-width="0.9"/>
<text x="605.20" y="328.00" text-anchor="middle" font-size="11.5" font-weight="normal">16</text>
<line x1="627.60" y1="312.00" x2="627.60" y2="309.50" stroke="#222" stroke-width="0.9"/>
<text x="627.60" y="328.00" text-anchor="middle" font-size="11.5" font-weight="normal">20</text>
<line x1="650.00" y1="312.00" x2="650.00" y2="309.50" stroke="#222" stroke-width="0.9"/>
<text x="650.00" y="328.00" text-anchor="middle" font-size="11.5" font-weight="normal">24</text>
<line x1="672.40" y1="312.00" x2="672.40" y2="309.50" stroke="#222" stroke-width="0.9"/>
<text x="672.40" y="328.00" text-anchor="middle" font-size="11.5" font-weight="normal">28</text>
<text x="601.90" y="346.10" text-anchor="middle" font-size="11.5" font-weight="normal">Time (min)</text>
<text transform="translate(485.50,259.25) rotate(-90)" x="0" y="0" text-anchor="middle" font-size="11.6">RNase activity (RFU)</text>
</svg>
</body></html>
